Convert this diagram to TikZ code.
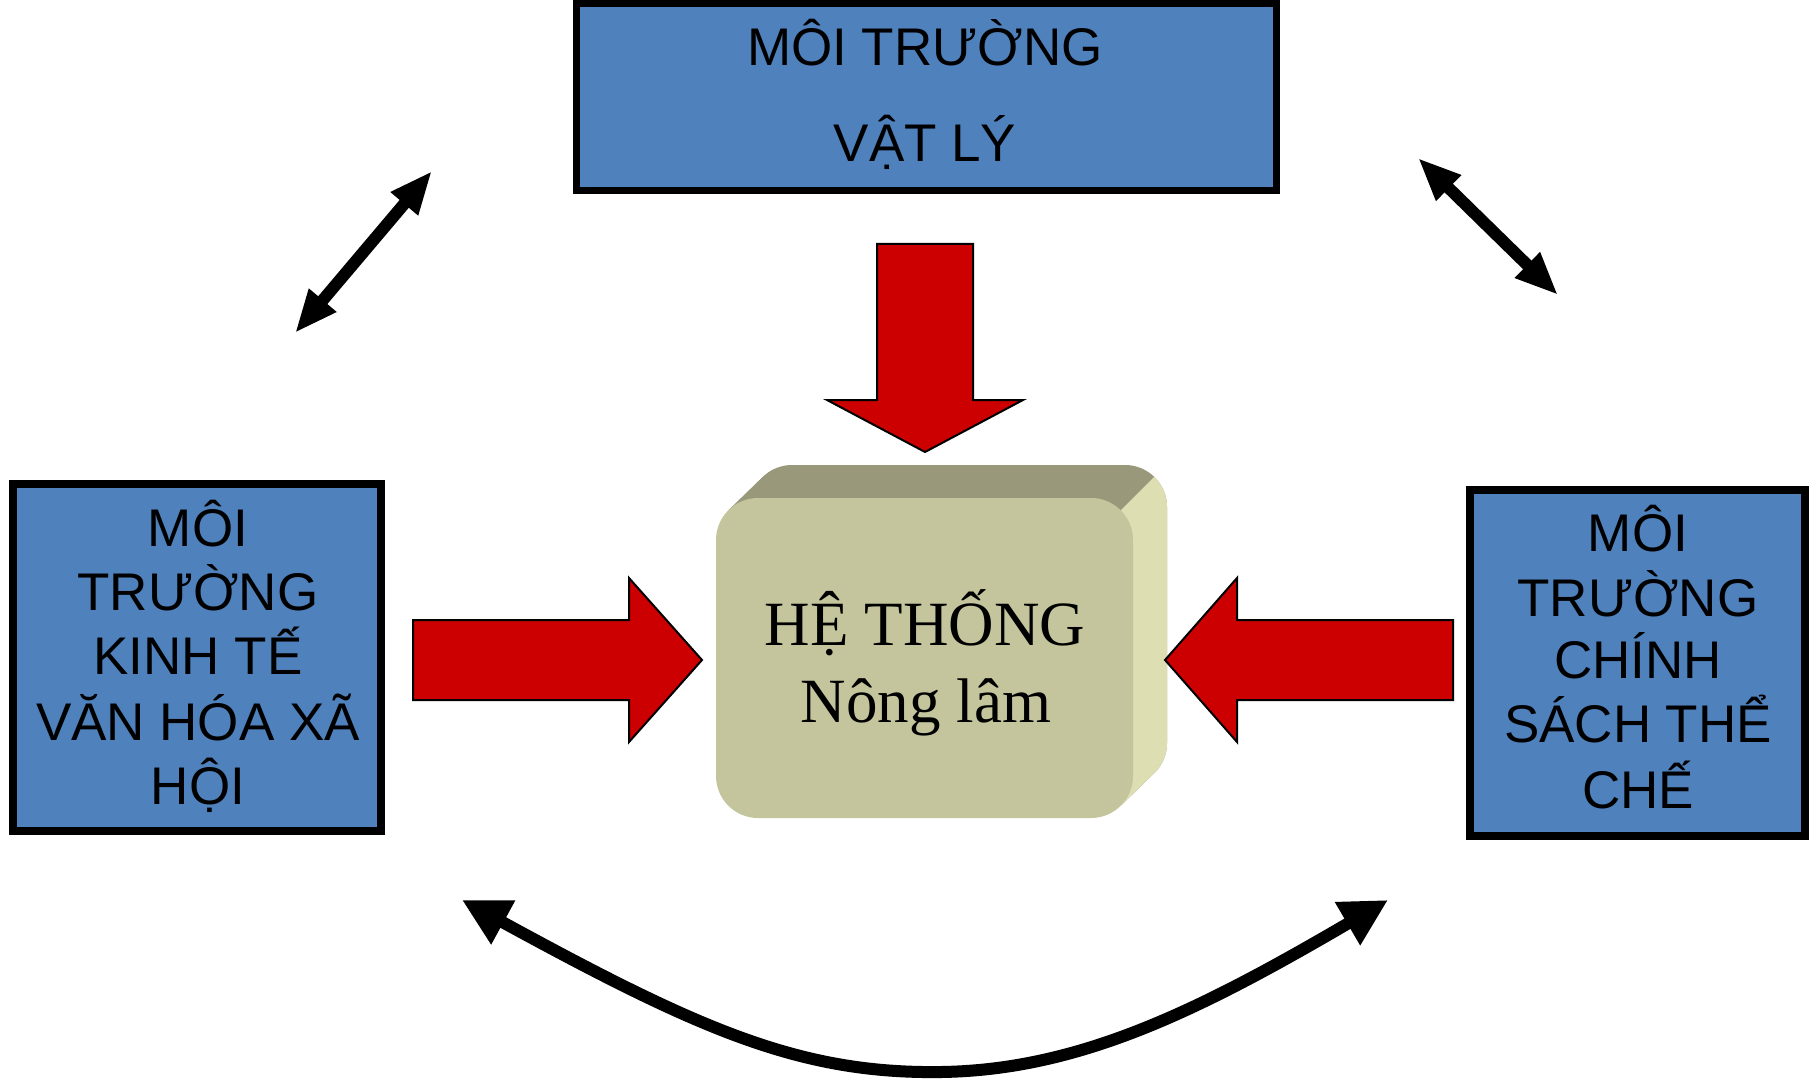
\documentclass[tikz,border=0pt]{standalone}
\usepackage{fontspec}
\setmainfont{Liberation Serif}
\newfontfamily\boxfont{Liberation Sans}
\usetikzlibrary{arrows.meta}

\definecolor{boxblue}{RGB}{79,129,189}
\definecolor{arrowred}{RGB}{204,0,0}
\definecolor{facefront}{RGB}{196,197,157}
\definecolor{facetop}{RGB}{153,152,122}
\definecolor{faceside}{RGB}{222,222,179}

\tikzset{
	envbox/.style={draw=black, fill=boxblue, inner sep=0pt},
	envtext/.style={anchor=base, inner sep=0pt, font=\boxfont\fontsize{26.5}{30}\selectfont},
	systext/.style={anchor=base, inner sep=0pt, font=\fontsize{31.5}{36}\selectfont},
	redarrow/.style={draw=black, line width=1pt, fill=arrowred, line join=miter},
	linkarrow/.style={line width=6pt, {Triangle[length=21.5pt,width=16.5pt]}-{Triangle[length=21.5pt,width=16.5pt]}},
	looparrow/.style={line width=6pt, {Triangle[length=23.5pt,width=23.5pt]}-{Triangle[length=23.5pt,width=23.5pt]}}
}

\begin{document}
\begin{tikzpicture}[x=0.5pt, y=-0.5pt]
			%%%%% START %%%%%
			\useasboundingbox (0,0) rectangle (1818,1085);
			
			% moi truong vat ly
			\node[envbox, line width=3.5pt, minimum width=350pt, minimum height=93.5pt] (vatly) at (926,97.5) {};
			\node[envtext] (vatly1) at (925,66) {MÔI TRƯỜNG};
			\node[envtext] (vatly2) at (925,162) {VẬT LÝ};
			
			% moi truong kinh te van hoa xa hoi
			\node[envbox, line width=4pt, minimum width=184pt, minimum height=173.5pt] (kinhte) at (197,657.5) {};
			\node[envtext] (kinhte1) at (198,546) {MÔI};
			\node[envtext] (kinhte2) at (198,610) {TRƯỜNG};
			\node[envtext] (kinhte3) at (198,674) {KINH TẾ};
			\node[envtext] (kinhte4) at (198,740) {VĂN HÓA XÃ};
			\node[envtext] (kinhte5) at (198,804) {HỘI};
			
			% moi truong chinh sach the che
			\node[envbox, line width=4pt, minimum width=167.5pt, minimum height=173pt] (chinhsach) at (1637.5,663) {};
			\node[envtext] (chinhsach1) at (1638,551) {MÔI};
			\node[envtext] (chinhsach2) at (1638,616) {TRƯỜNG};
			\node[envtext] (chinhsach3) at (1638,678) {CHÍNH};
			\node[envtext] (chinhsach4) at (1638,742) {SÁCH THỂ};
			\node[envtext] (chinhsach5) at (1638,808) {CHẾ};
			
			% he thong (3d block)
			\fill[facetop, rounded corners=21pt] (750,465) rectangle (1167,785);
			\fill[facetop] (728.3,510.3) -- (762.3,477.3) -- (1154.7,772.7) -- (1120.7,805.7) -- cycle;
			\begin{scope}
				\clip (1031,600) -- (1231,400) -- (1300,400) -- (1300,900) -- (1031,900) -- cycle;
				\fill[faceside, rounded corners=21pt] (750,465) rectangle (1167,785);
				\fill[faceside] (728.3,510.3) -- (762.3,477.3) -- (1154.7,772.7) -- (1120.7,805.7) -- cycle;
			\end{scope}
			\node[fill=facefront, rounded corners=21pt, inner sep=0pt, minimum width=208.5pt, minimum height=160pt] (hethong) at (924.5,658) {};
			\node[systext] (hethong1) at (925,645) {HỆ THỐNG};
			\node[systext] (hethong2) at (926,722) {Nông lâm};
			
			% red arrows
			\draw[redarrow] (877,244) -- (973,244) -- (973,400) -- (1023,400) -- (925,452) -- (827,400) -- (877,400) -- cycle;
			\draw[redarrow] (413,620) -- (629,620) -- (629,578) -- (702,660) -- (629,742) -- (629,700) -- (413,700) -- cycle;
			\draw[redarrow] (1453,620) -- (1237,620) -- (1237,578) -- (1165,660) -- (1237,742) -- (1237,700) -- (1453,700) -- cycle;
			
			% black links
			\coordinate (link1a) at (295,333);
			\coordinate (link1b) at (432,171);
			\draw[linkarrow] (link1a) -- (link1b);
			
			\coordinate (link2a) at (1418,158);
			\coordinate (link2b) at (1558,295);
			\draw[linkarrow] (link2a) -- (link2b);
			
			\coordinate (link3a) at (462,900);
			\coordinate (link3m) at (941,1072);
			\coordinate (link3b) at (1388,900);
			\draw[looparrow] (link3a) .. controls (700,1030) and (800,1074) .. (link3m) .. controls (1080,1070) and (1200,1010) .. (link3b);
			
			%%%%% END %%%%%
\end{tikzpicture}
\end{document}
